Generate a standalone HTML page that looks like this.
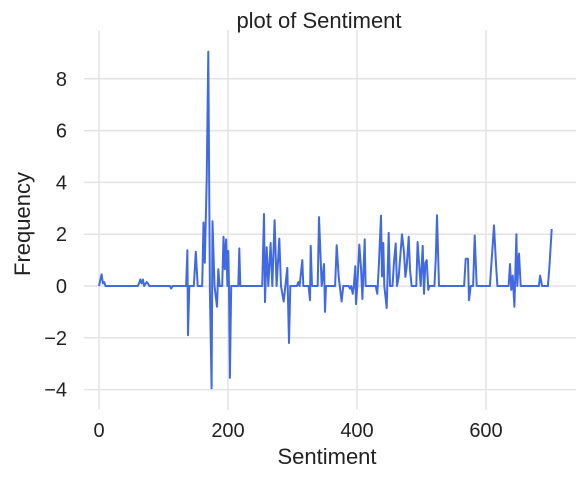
<!DOCTYPE html>
<html><head><meta charset="utf-8"><style>
body{margin:0;background:#fff;}
svg{display:block;font-family:"Liberation Sans","DejaVu Sans",sans-serif;}
</style></head><body>
<svg id="chart" width="583" height="477">
<g id="grid"></g>
<g id="ticks"></g>
<path id="line" fill="none" stroke="#4169e1" stroke-width="2" stroke-linejoin="round"></path>
<text x="319" y="28" text-anchor="middle" font-size="22" fill="#222">plot of Sentiment</text>
<text x="327" y="464" text-anchor="middle" font-size="22" fill="#222">Sentiment</text>
<text x="0" y="0" transform="translate(30,224) rotate(-90)" text-anchor="middle" font-size="22" fill="#222">Frequency</text>
</svg>
<script>
const xTicks=[0,200,400,600];
const yTicks=[-4,-2,0,2,4,6,8];
const yTickLabels=["−4","−2","0","2","4","6","8"];
const xs=[0,4,6,8,10,12,60,62,64,66,68,70,74,76,78,110,112,114,135,137,138,140,147,150,153,160,162,164,167,169.5,172,174.6,176,179,183,185,187,191,193,195,197,199,200.5,201.5,203,205,216,217.5,219,253,255.8,257.4,260,262.5,266.1,268.7,272.3,275.4,279.6,282.2,286.3,292,294.6,296.6,307,309,311,315.2,316.8,325,327.1,328.2,330.2,339,341.1,345.2,348.8,350.4,351.9,366,368.5,371.6,376.2,378.8,387,389.1,391,393.3,395,397.4,398.4,400.5,403.6,406.2,408.3,411.9,413.4,429,431.5,433.6,437.2,438.8,440.8,442.4,446,449.1,451.2,455,457.4,460,462,464.6,469.8,472.9,475,477,480.1,482.2,484.7,492,494,496.7,498.7,501.8,503.9,506,508,510.6,512.2,514.2,520,522,524,527.2,566,568.5,572.1,573.7,576.3,580,582.5,585.6,606,612.4,615.5,617.6,635,637.2,639.3,641.4,644,647.1,648.6,651.2,653.8,682,683.8,686.9,696,698.2,701.8];
const ys=[0,0.45,0.1,0.15,0,0,0,0.1,0.25,0.1,0.25,0,0.15,0.1,0,0,-0.1,0,0,1.38,-1.9,0,0,1.32,0,0,2.45,0.9,4.1,9.05,-0.2,-3.95,2.5,0,-0.8,0.65,0,0,1.9,0.65,1.8,0,1.35,0,-3.55,0,0,1.45,0,0,2.78,-0.62,1.5,0,1.66,0,2.54,0,1.83,0,-0.6,0.7,-2.2,0,0,0.15,0,1.0,0,0,-0.55,1.55,0,0,2.66,0,0.85,-1.0,0,0,1.57,0.35,-0.6,0,0,-0.1,0,-0.3,0,0.76,-0.7,0,1.6,0.7,-0.5,1.8,0,0,-0.3,0.68,2.72,0.37,1.66,0,-0.85,2.05,0,0,0.93,1.64,0,0.35,2.0,1.3,0.35,0.75,1.9,0.65,0,0,1.7,0.7,0,1.55,-0.3,0.9,1.0,-0.15,0,0,0,1.0,2.73,0,0,1.05,1.05,-0.55,0,0,1.95,0,0,2.34,0.85,0,0,0.85,-0.15,0.4,-0.8,2.0,0,1.25,0,0,0.4,0,0,0.67,2.2];
const X=v=>99+v*0.645, Y=v=>286-v*25.9;
const ns="http://www.w3.org/2000/svg";
const grid=document.getElementById('grid'), ticks=document.getElementById('ticks');
yTicks.forEach((t,i)=>{
  const l=document.createElementNS(ns,'line');
  l.setAttribute('x1',84);l.setAttribute('x2',576);l.setAttribute('y1',Y(t));l.setAttribute('y2',Y(t));
  l.setAttribute('stroke','#e3e3e3');l.setAttribute('stroke-width','1.5');
  
  
  grid.appendChild(l);
  const tx=document.createElementNS(ns,'text');
  tx.setAttribute('x',67);tx.setAttribute('y',Y(t)+7);tx.setAttribute('text-anchor','end');tx.setAttribute('font-size','20');tx.setAttribute('fill','#222');
  tx.textContent=yTickLabels[i];
  
  
  ticks.appendChild(tx);
});
xTicks.forEach(t=>{
  const l=document.createElementNS(ns,'line');
  l.setAttribute('x1',X(t));l.setAttribute('x2',X(t));l.setAttribute('y1',30);l.setAttribute('y2',410);
  l.setAttribute('stroke','#e3e3e3');l.setAttribute('stroke-width','1.5');
  
  
  grid.appendChild(l);
  const tx=document.createElementNS(ns,'text');
  tx.setAttribute('x',X(t));tx.setAttribute('y',437);tx.setAttribute('text-anchor','middle');tx.setAttribute('font-size','20');tx.setAttribute('fill','#222');
  tx.textContent=String(t);
  
  
  ticks.appendChild(tx);
});
document.getElementById('line').setAttribute('d',xs.map((x,i)=>(i?'L':'M')+X(x).toFixed(1)+','+Y(ys[i]).toFixed(1)).join(''));
</script>
</body></html>
